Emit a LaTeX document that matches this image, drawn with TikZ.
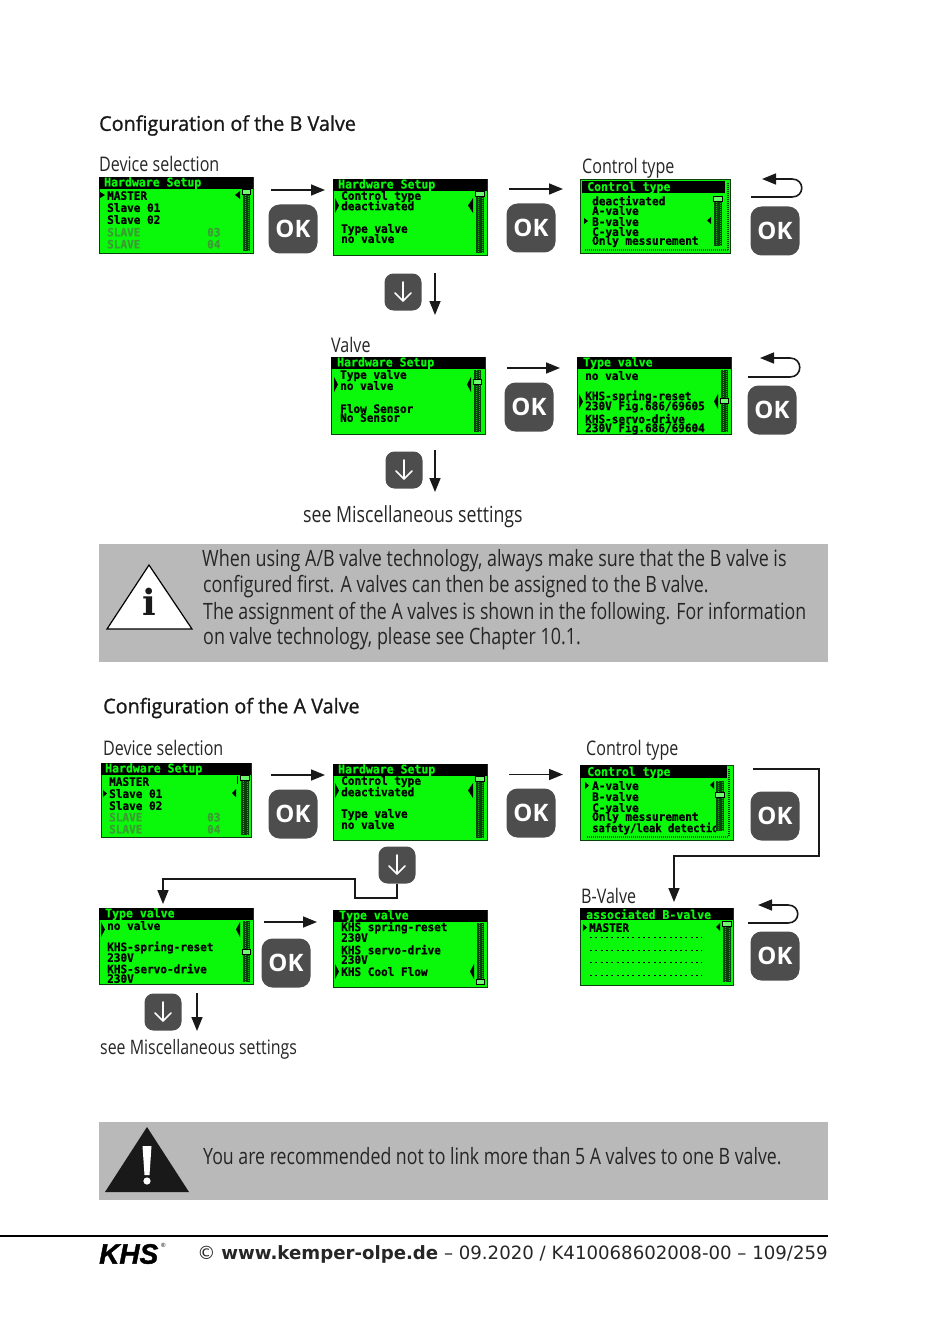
\documentclass[tikz,border=0pt]{standalone}
\usepackage{fontspec}
\usetikzlibrary{arrows.meta}
\setmainfont{Open Sans}
\newfontfamily\bodyf[FakeStretch=0.80]{Open Sans}
\newfontfamily\headf[FakeStretch=0.97,FakeBold=1]{Open Sans}
\newfontfamily\lcdf[FakeStretch=0.96,BoldFeatures={FakeBold=0.8}]{DejaVu Sans Mono}
\newfontfamily\footf{DejaVu Sans}
\newfontfamily\logof[BoldItalicFeatures={FakeBold=1.5}]{Liberation Sans}
\newfontfamily\serf{DejaVu Serif}
\definecolor{lcdgreen}{HTML}{0AF80A}
\definecolor{lcddark}{HTML}{0B3F0B}
\definecolor{lcdfade}{HTML}{3C9C34}
\definecolor{btn}{HTML}{4D4D4D}
\definecolor{panel}{HTML}{B9B9B9}
\newcounter{tn}
\tikzset{
  lcdbox/.style={draw=lcddark,line width=1pt,fill=lcdgreen,inner sep=0pt,anchor=north west},
  lcdtext/.style={anchor=west,inner sep=0pt,yshift=-.6pt,font=\lcdf\bfseries\fontsize{11.5}{11}\selectfont,text=black},
  lcdtitle/.style={lcdtext,text=lcdgreen,font=\lcdf\bfseries\fontsize{12}{11}\selectfont},
  lcdfaded/.style={lcdtext,text=lcdfade},
  lbl/.style={anchor=west,inner sep=0pt,font=\bodyf\fontsize{20.1}{20}\selectfont,text=black!85},
  headtxt/.style={anchor=west,inner sep=0pt,font=\headf\fontsize{20.4}{20}\selectfont,text=black!90},
  bodytext/.style={anchor=west,inner sep=0pt,font=\bodyf\fontsize{22.5}{22}\selectfont,text=black!85},
  okbtn/.style={fill=btn,rounded corners=11pt,inner sep=0pt,minimum size=49pt,text=white,font=\bfseries\fontsize{24}{24}\selectfont},
  downbtn/.style={fill=btn,rounded corners=9pt,inner sep=0pt,minimum size=37pt},
  flow/.style={draw=black!90,line width=1.6pt,-{Triangle[length=14pt,width=11pt]}}
}
\newcommand\lcdl[3][]{\stepcounter{tn}\node[lcdtext,#1] (lt\thetn) at (#2) {#3};}
\newcommand\lcdbase[5]{% name x1 y1 x2 y2
  \pgfmathsetmacro\scw{#4-#2}\pgfmathsetmacro\sch{#5-#3}
  \node[lcdbox,minimum width=\scw pt,minimum height=\sch pt] (#1) at (#2,#3) {};}
\newcommand\lcdbar[8]{% name bx1 by1 bx2 by2 tx ty title
  \fill[black] (#2,#3) rectangle (#4,#5);
  \node[lcdtitle] (#1-title) at (#6,#7) {#8};}
\newcommand\lcdscreen[7]{% name x1 y1 x2 y2 titlex title
  \lcdbase{#1}{#2}{#3}{#4}{#5}
  \lcdbar{#1}{#2}{#3}{#4}{#3+12}{#6}{#3+5.5}{#7}}
\newcommand\scrbar[5]{% x1 y1 x2 y2 thumb-top
  \fill[lcddark] (#1,#2) rectangle (#3,#4);
  \draw[lcdgreen!80!black,line width=1pt,dash pattern=on 1pt off 1pt] (#1+2,#2) -- (#1+2,#4);
  \draw[lcdgreen!80!black,line width=1pt,dash pattern=on 1pt off 1pt,dash phase=1pt] (#3-2,#2) -- (#3-2,#4);
  \draw[fill=lcdgreen!60!white,draw=black,line width=.8pt] (#1-.5,#5) rectangle (#3+.5,#5+5);
}
\newcommand\ptrR[4]{\fill[black] (#1,#3) -- (#2,{(#3+#4)/2}) -- (#1,#4) -- cycle;}
\newcommand\ptrL[4]{\fill[black] (#2,#3) -- (#1,{(#3+#4)/2}) -- (#2,#4) -- cycle;}
\newcommand\okb[3]{\node[okbtn] (#1) at (#2,#3) {OK};}
\newcommand\downb[3]{\node[downbtn] (#1) at (#2,#3) {};
  \draw[white,line width=1.6pt,line cap=round,line join=round] (#2,#3-10) -- (#2,#3+9) (#2-8,#3+1) -- (#2,#3+9) -- (#2+8,#3+1);}
\newcommand\rgtarr[4]{\coordinate (#1-a) at (#2,#4);\coordinate (#1-b) at (#3,#4);\draw[flow] (#1-a) -- (#1-b);}
\newcommand\dwnarr[4]{\coordinate (#1-a) at (#2,#3);\coordinate (#1-b) at (#2,#4);\draw[flow] (#1-a) -- (#1-b);}
\newcommand\bckarr[6]{% name x1 ybottom xright ytop tipx
  \coordinate (#1-a) at (#2,#3);\coordinate (#1-b) at (#6,#5);
  \draw[flow] (#1-a) -- (#4-10,#3) .. controls (#4+3,#3) and (#4+3,#5) .. (#4-10,#5) -- (#1-b);}
\newcommand\dotrow[3]{\draw[black,line width=1pt,dash pattern=on 2pt off 3.3pt] (#1,#3) -- (#2,#3);}
\begin{document}
\begin{tikzpicture}[x=1pt,y=-1pt]
\useasboundingbox (0,0) rectangle (950,1332);
\fill[white] (0,0) rectangle (950,1332);

% ---------- B valve ----------
\node[headtxt] (h1) at (99,125.5) {Configuration of the B Valve};
\node[lbl] (l1) at (99,164) {Device selection};
\node[lbl] (l2) at (582,168.5) {Control type};
\node[lbl] (l3) at (331,345) {Valve};
\node[lbl,font=\bodyf\fontsize{22.2}{20}\selectfont] (l4) at (303,517) {see Miscellaneous settings};

\lcdscreen{s1}{99}{177}{253}{253}{104}{Hardware Setup}
\lcdl{107,195}{MASTER}\lcdl{107,207}{Slave 01}\lcdl{107,219}{Slave 02}
\lcdl[lcdfaded]{107,231}{SLAVE}\lcdl[lcdfaded]{207,231}{03}
\lcdl[lcdfaded]{107,243}{SLAVE}\lcdl[lcdfaded]{207,243}{04}
\ptrR{100}{105}{192}{198}\ptrL{235}{240}{191}{199}
\scrbar{243}{189}{250}{251}{189}

\lcdscreen{s2}{333}{179}{487}{255}{338}{Hardware Setup}
\lcdl{341,196}{Control type}\lcdl{341,205}{deactivated}\lcdl{341,229}{Type valve}\lcdl{341,238}{no valve}
\ptrR{335}{339}{198}{213}\ptrL{468}{473}{198}{213}
\scrbar{476}{191}{484}{253}{191}

\lcdbase{s3}{580}{179}{730}{253}
\lcdbar{s3}{582}{181}{725}{193}{587}{187}{Control type}
\lcdl{592,200}{deactivated}\lcdl{592,210}{A-valve}\lcdl{592,221}{B-valve}\lcdl{592,231}{C-valve}\lcdl{592,241}{Only messurement}
\ptrR{584}{588}{218}{224}\ptrL{707}{711}{217}{224}
\scrbar{714}{196}{722}{246}{196}
\draw[lcddark,line width=2pt,dash pattern=on 1pt off 1pt] (585,250.5) -- (728,250.5) (727.5,183) -- (727.5,250);

\lcdscreen{s4}{331}{357}{485}{434}{337}{Hardware Setup}
\lcdl{340,375}{Type valve}\lcdl{340,385}{no valve}\lcdl{340,408}{Flow Sensor}\lcdl{340,417}{No Sensor}
\ptrR{334}{338}{377}{392}\ptrL{467}{471}{377}{392}
\scrbar{474}{370}{481}{432}{379}

\lcdscreen{s5}{577}{357}{731}{434}{583}{Type valve}
\lcdl{585,375}{no valve}\lcdl{585,396}{KHS-spring-reset}\lcdl{585,406}{230V Fig.686/69605}\lcdl{585,418}{KHS-servo-drive}\lcdl{585,428}{230V Fig.686/69604}
\ptrR{579}{583}{394}{409}\ptrL{714}{718}{394}{409}
\scrbar{721}{370}{728}{432}{398}

\rgtarr{r1}{271}{325}{190}\okb{ok1}{293}{229}
\rgtarr{r2}{509}{563}{189}\okb{ok2}{531}{228}
\bckarr{b1}{751}{197}{802}{179}{762}\okb{ok3}{775}{231}
\downb{d1}{403}{292}\dwnarr{da1}{435}{273}{315}
\rgtarr{r3}{507}{560}{368}\okb{ok4}{529}{407}
\bckarr{b2}{748}{377}{800}{358}{760}\okb{ok5}{772}{410}
\downb{d2}{404}{470}\dwnarr{da2}{435}{450}{492}

% ---------- info panel ----------
\fill[panel] (99,544) rectangle (828,662);
\fill[white,draw=black,line width=1.2pt,line join=miter] (149,565) -- (192,629) -- (107,629) -- cycle;
\node[inner sep=0pt,font=\serf\bfseries\fontsize{36}{36}\selectfont,text=black!90] (infoi) at (149,602) {i};
\node[bodytext] (p1) at (202,561) {\scalebox{0.997}[1]{When using A/B valve technology, always make sure that the B valve is}};
\node[bodytext] (p2) at (203,587) {\scalebox{0.99}[1]{configured first. A valves can then be assigned to the B valve.}};
\node[bodytext] (p3) at (203,613.5) {\scalebox{0.985}[1]{The assignment of the A valves is shown in the following. For information}};
\node[bodytext] (p4) at (203,639) {\scalebox{0.995}[1]{on valve technology, please see Chapter 10.1.}};

% ---------- A valve ----------
\node[headtxt] (h2) at (103,708) {Configuration of the A Valve};
\node[lbl] (l5) at (103,748) {Device selection};
\node[lbl] (l6) at (586,750.5) {Control type};
\node[lbl] (l7) at (581,896) {B-Valve};
\node[lbl,font=\bodyf\fontsize{19.9}{20}\selectfont] (l8) at (100,1049.5) {see Miscellaneous settings};

\lcdscreen{a1}{101}{763}{251}{837}{105}{Hardware Setup}
\lcdl{109,781}{MASTER}\lcdl{109,793}{Slave 01}\lcdl{109,805}{Slave 02}
\lcdl[lcdfaded]{109,816}{SLAVE}\lcdl[lcdfaded]{207,816}{03}
\lcdl[lcdfaded]{109,828}{SLAVE}\lcdl[lcdfaded]{207,828}{04}
\ptrR{103}{107}{790}{797}\ptrL{232}{236}{789}{797}
\fill[black] (237,776) rectangle (238,784);
\scrbar{241}{775}{249}{835}{775}

\lcdscreen{a2}{333}{764}{487}{840}{338}{Hardware Setup}
\lcdl{341,781}{Control type}\lcdl{341,791}{deactivated}\lcdl{341,814}{Type valve}\lcdl{341,824}{no valve}
\ptrR{335}{339}{783}{798}\ptrL{468}{473}{783}{798}
\scrbar{476}{776}{484}{838}{776}

\lcdbase{a3}{580}{765}{733}{840}
\lcdbar{a3}{580}{765}{727}{778}{587}{772}{Control type}
\lcdl{592,785}{A-valve}\lcdl{592,796}{B-valve}\lcdl{592,807}{C-valve}\lcdl{592,817}{Only messurement}
\begin{scope}
\clip (585,820) rectangle (716,836);
\lcdl{592,828}{\scalebox{0.95}[1]{safety/leak detection}}
\end{scope}
\ptrR{585}{589}{782}{789}\ptrL{710}{714}{781}{789}
\scrbar{716}{781}{724}{831}{792}
\draw[lcddark,line width=2pt,dash pattern=on 1pt off 1pt] (587,836.5) -- (729,836.5) (729,769) -- (729,836);

\lcdscreen{a4}{580}{908}{733}{985}{586}{associated B-valve}
\lcdl{589,927}{MASTER}
\dotrow{590}{702}{937}\dotrow{590}{702}{950}\dotrow{590}{702}{962}\dotrow{590}{702}{975}
\ptrR{583}{587}{924}{931}\ptrL{716}{720}{923}{931}
\scrbar{723}{921}{731}{982}{921}

\lcdscreen{a5}{99}{908}{253}{984}{105}{Type valve}
\lcdl{107,925}{no valve}\lcdl{107,947}{KHS-spring-reset}\lcdl{107,957}{230V}\lcdl{107,968}{KHS-servo-drive}\lcdl{107,978}{230V}
\ptrR{101}{105}{922}{937}\ptrL{236}{240}{922}{937}
\scrbar{243}{921}{250}{982}{949}

\lcdscreen{a6}{333}{910}{487}{987}{339}{Type valve}
\lcdl{341,927}{KHS spring-reset}\lcdl{341,937}{230V}\lcdl{341,949}{KHS servo-drive}\lcdl{341,959}{230V}\lcdl{341,971}{KHS Cool Flow}
\ptrR{335}{339}{964}{979}\ptrL{470}{474}{964}{979}
\scrbar{477}{923}{484}{985}{979}

\rgtarr{r4}{271}{325}{775}\okb{ok6}{293}{814}
\rgtarr{r5}{509}{563}{774.5}\okb{ok7}{531}{813}
\okb{ok8}{775}{816}
\okb{ok9}{775}{956}
\bckarr{b3}{748}{923}{798}{905}{758}
\rgtarr{r6}{264}{317}{922}\okb{ok10}{286}{963}
\downb{d3}{397}{865}
\downb{d4}{163}{1012}\dwnarr{da3}{197}{993}{1031}

\coordinate (c1) at (753,769);
\coordinate (c2) at (674,902);
\draw[flow] (c1) -- (819,769) -- (819,856) -- (674,856) -- (c2);
\coordinate (c3) at (163,904);
\draw[flow] (d3.south) -- (397,898) -- (355,898) -- (355,879) -- (163,879) -- (c3);

% ---------- warning panel ----------
\fill[panel] (99,1122) rectangle (828,1200);
\fill[black!90] (147,1127) -- (189,1192) -- (105,1192) -- cycle;
\fill[white] (142.5,1146) -- (151.5,1146) -- (149.5,1175) -- (144.5,1175) -- cycle;
\fill[white] (147,1181) circle (3.6);
\node[bodytext] (p5) at (203,1156.5) {\scalebox{0.986}[1]{You are recommended not to link more than 5 A valves to one B valve.}};

% ---------- footer ----------
\coordinate (f1) at (0,1236);\coordinate (f2) at (828,1236);
\draw[black,line width=1.8pt] (f1) -- (f2);
\node[anchor=west,inner sep=0pt,font=\logof\bfseries\itshape\fontsize{28}{28}\selectfont,text=black] (logo) at (99,1254) {KHS};
\node[anchor=west,inner sep=0pt,font=\logof\fontsize{6}{6}\selectfont] (logor) at (161,1245) {®};
\node[anchor=east,inner sep=0pt,font=\footf\fontsize{18.3}{18}\selectfont,text=black!85] (foot) at (828,1254.5) {\scalebox{0.992}[1]{© \textbf{www.kemper-olpe.de} – 09.2020 / K410068602008-00 – 109/259}};
\end{tikzpicture}
\end{document}
